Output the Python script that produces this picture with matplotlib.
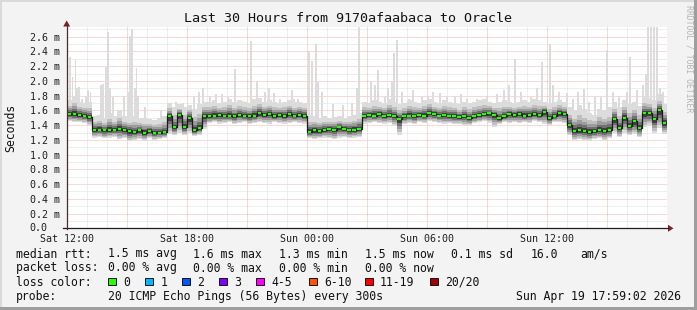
import numpy as np
import matplotlib
matplotlib.use("Agg")
import matplotlib.pyplot as plt
from matplotlib.patches import Rectangle, Polygon

W, H = 697, 310

# median rtt in ms, one value per 15 minutes starting Sat 12:00 (30 h -> 120 values)
median = [
    1.55, 1.55, 1.54, 1.53, 1.51,                                    # 0-4
    1.34, 1.34, 1.33, 1.34, 1.34, 1.35, 1.34,                        # 5-11
    1.32, 1.31, 1.33, 1.30, 1.32, 1.30, 1.30, 1.31,                  # 12-19
    1.52, 1.37, 1.54, 1.38, 1.50, 1.33, 1.36, 1.53,                  # 20-27
    1.52, 1.53, 1.54, 1.53, 1.53, 1.52, 1.54, 1.53, 1.52, 1.53,      # 28-37
    1.56, 1.54, 1.55, 1.52, 1.54, 1.53, 1.55, 1.53, 1.54, 1.53,      # 38-47
    1.31, 1.33, 1.32, 1.34, 1.35, 1.34, 1.37, 1.35, 1.34, 1.34, 1.35,  # 48-58
    1.53, 1.54, 1.53, 1.55, 1.53, 1.54, 1.52, 1.48, 1.52, 1.53,      # 59-68
    1.52, 1.54, 1.53, 1.56, 1.55, 1.53, 1.54, 1.52, 1.53, 1.51,      # 69-78
    1.53, 1.50, 1.52, 1.54, 1.55, 1.56, 1.54, 1.49, 1.52, 1.55,      # 79-88
    1.54, 1.55, 1.53, 1.54, 1.55, 1.54, 1.58, 1.50, 1.53, 1.56, 1.55,  # 89-99
    1.40, 1.32, 1.33, 1.32, 1.31, 1.32, 1.33, 1.32, 1.33,            # 100-108
    1.48, 1.36, 1.50, 1.39, 1.45, 1.36, 1.56, 1.56, 1.48, 1.60, 1.43,  # 109-119
]

# lowest ping of each step (bottom of the smoke)
smoke_lo = [
    1.45, 1.44, 1.44, 1.43, 1.40,
    1.23, 1.24, 1.22, 1.23, 1.24, 1.21, 1.22,
    1.18, 1.20, 1.21, 1.19, 1.22, 1.20, 1.21, 1.22,
    1.28, 1.27, 1.30, 1.26, 1.29, 1.25, 1.27, 1.35,
    1.43, 1.44, 1.42, 1.43, 1.44, 1.42, 1.43, 1.44, 1.42, 1.43,
    1.44, 1.43, 1.42, 1.44, 1.43, 1.42, 1.43, 1.44, 1.43, 1.42,
    1.22, 1.21, 1.22, 1.23, 1.22, 1.21, 1.23, 1.24, 1.22, 1.23, 1.24,
    1.42, 1.43, 1.44, 1.43, 1.42, 1.43, 1.40, 1.27, 1.42, 1.43,
    1.42, 1.44, 1.43, 1.45, 1.44, 1.43, 1.42, 1.43, 1.41, 1.42,
    1.40, 1.40, 1.43, 1.44, 1.45, 1.43, 1.38, 1.42, 1.44, 1.43,
    1.44, 1.43, 1.44, 1.43, 1.45, 1.44, 1.42, 1.40, 1.44, 1.44, 1.43,
    1.26, 1.20, 1.21, 1.20, 1.19, 1.21, 1.22, 1.20, 1.22,
    1.30, 1.24, 1.30, 1.26, 1.28, 1.24, 1.38, 1.40, 1.30, 1.36, 1.28,
]

# upper edge of the regular smoke (without the single spikes)
smoke_hi = [
    1.74, 1.80, 1.72, 1.70, 1.72,
    1.52, 1.54, 1.50, 1.57, 1.52, 1.60, 1.52,
    1.50, 1.52, 1.49, 1.50, 1.48, 1.47, 1.49, 1.52,
    1.70, 1.64, 1.68, 1.64, 1.67, 1.62, 1.68, 1.72,
    1.72, 1.74, 1.70, 1.72, 1.76, 1.71, 1.74, 1.72, 1.70, 1.75,
    1.77, 1.72, 1.74, 1.72, 1.70, 1.72, 1.74, 1.71, 1.72, 1.70,
    1.54, 1.52, 1.50, 1.52, 1.50, 1.51, 1.52, 1.50, 1.52, 1.54, 1.57,
    1.72, 1.70, 1.74, 1.72, 1.70, 1.76, 1.72, 1.68, 1.70, 1.74,
    1.72, 1.70, 1.74, 1.76, 1.72, 1.70, 1.74, 1.72, 1.70, 1.68,
    1.72, 1.70, 1.72, 1.74, 1.76, 1.72, 1.70, 1.72, 1.74, 1.72,
    1.70, 1.72, 1.74, 1.72, 1.76, 1.74, 1.72, 1.70, 1.72, 1.74, 1.72,
    1.64, 1.60, 1.67, 1.62, 1.57, 1.54, 1.62, 1.60, 1.64,
    1.72, 1.64, 1.74, 1.68, 1.72, 1.66, 1.80, 1.77, 1.74, 1.82, 1.68,
]

# single tall pings (hours after Sat 12:00, ms)
spike_h = [0.17, 0.29, 0.44, 0.52, 0.62, 0.78, 0.97, 1.05, 1.19, 1.70,
           1.82, 1.97, 2.07, 2.17, 2.30, 2.85, 3.05, 3.17, 3.25, 3.40,
           3.49, 3.57, 3.90, 4.70, 5.07, 5.45, 5.82, 6.35, 6.60, 6.82,
           7.17, 7.45, 7.75, 8.07, 8.42, 8.80, 9.22, 9.52, 9.92, 10.10,
           10.35, 10.67, 11.25, 11.37, 11.55, 12.12, 12.27, 12.47, 12.57, 12.75,
           13.30, 13.82, 14.25, 14.50, 14.62, 15.22, 15.40, 15.57, 15.90, 16.07,
           16.25, 16.37, 16.52, 16.75, 17.10, 17.32, 17.75, 18.07, 18.30, 18.67,
           19.00, 19.42, 19.70, 20.02, 20.50, 21.00, 21.50, 21.85, 22.12, 22.42,
           22.70, 23.20, 23.50, 23.77, 24.17, 24.32, 24.60, 25.02, 25.30, 25.57,
           25.87, 26.10, 26.42, 26.70, 27.02, 27.30, 27.60, 28.00, 28.17, 28.50,
           28.82, 28.95, 29.07, 29.22, 29.37, 29.52, 29.65, 29.82]
spike_v = [2.32, 2.05, 2.28, 1.90, 1.92, 1.75, 1.80, 1.88, 1.85, 1.95,
           1.96, 2.19, 2.67, 1.90, 1.78, 1.80, 1.85, 2.61, 2.70, 1.90,
           2.18, 1.80, 1.65, 1.60, 1.68, 1.72, 1.70, 1.80, 1.85, 1.91,
           1.80, 1.82, 1.82, 1.78, 2.16, 1.73, 2.54, 1.98, 1.85, 1.90,
           1.83, 1.75, 1.87, 1.76, 1.75, 2.40, 2.27, 2.50, 2.00, 1.85,
           1.68, 1.67, 1.70, 1.90, 2.75, 2.00, 1.95, 2.15, 1.80, 1.91,
           2.00, 2.38, 2.55, 1.85, 1.75, 1.87, 1.78, 1.80, 1.85, 1.83,
           1.78, 1.80, 1.82, 1.75, 1.75, 1.78, 1.82, 1.88, 1.95, 2.30,
           1.85, 1.78, 1.90, 2.25, 2.50, 1.95, 1.85, 1.84, 1.75, 1.85,
           1.89, 1.72, 1.80, 1.78, 2.42, 1.85, 1.80, 1.85, 2.32, 1.88,
           1.95, 2.10, 2.75, 2.75, 2.75, 2.75, 1.90, 1.85]

tick_hours = [0, 6, 12, 18, 24]
tick_names = ["Sat 12:00", "Sat 18:00", "Sun 00:00", "Sun 06:00", "Sun 12:00"]

loss_names = ["0", "1", "2", "3", "4-5", "6-10", "11-19", "20/20"]
loss_colors = ["#26ff00", "#00b8ff", "#0059ff", "#7e00ff", "#ff00ff", "#ff5500", "#ff0000", "#a10000"]

MONO = "DejaVu Sans Mono"
plt.rcParams["font.family"] = MONO

def fx(x):
    return x / W

def fy(y):
    return 1 - y / H

fig = plt.figure(figsize=(W / 100, H / 100), dpi=100, facecolor="#f3f3f3")
X0, X1, Y0, Y1 = 66.7, 666.7, 228.3, 27.3
ax = fig.add_axes([fx(X0), fy(Y0), (X1 - X0) / W, (Y0 - Y1) / H])
ax.set_facecolor("white")
ax.set_xlim(0, 30)
ax.set_ylim(0, 2.6 * (Y0 - Y1) / (Y0 - 36.7))
for s in ax.spines.values():
    s.set_visible(False)

# grid (rrdtool style dotted)
dot = (0, (1, 1))
for k in range(1, 28):
    col = "#f5b3b3" if k % 2 == 0 else "#dedede"
    ax.axhline(k * 0.1, color=col, lw=0.72, ls=dot, zorder=0.5)
for hh in range(1, 30):
    col = "#f5b3b3" if hh % 3 == 0 else "#dedede"
    ax.axvline(hh, color=col, lw=0.72, ls=dot, zorder=0.5)

med = np.array(median)
lo = np.array(smoke_lo)
hi = np.array(smoke_hi)
n = len(med)
edges = np.arange(n + 1) * 0.25

# single spikes in light grey
idx = np.minimum((np.array(spike_h) * 4).astype(int), n - 1)
ax.bar(spike_h, np.array(spike_v) - med[idx], bottom=med[idx], width=1 / 12,
       color="#dcdcdc", lw=0, zorder=1)

# smoke, light outside -> dark near the median
layers = [(1.0, 1.0, "#dcdcdc"), (0.85, 0.6, "#bfbfbf"), (0.65, 0.42, "#9c9c9c"),
          (0.45, 0.27, "#717171"), (0.25, 0.14, "#3e3e3e")]
for flo, fhi, col in layers:
    a = med - flo * (med - lo)
    b = med + fhi * (hi - med)
    ax.fill_between(edges, np.append(a, a[-1]), np.append(b, b[-1]), step="post",
                    color=col, lw=0, zorder=2)

# median line
ax.step(edges, np.append(med, med[-1]), where="post", color="#1a1a1a", lw=0.9, zorder=3)
ax.hlines(med, edges[:-1] + 0.04, edges[1:] - 0.04, color="#26ff00", lw=1.5, zorder=4)

# ticks
ax.set_xticks(tick_hours)
ax.set_xticklabels(tick_names)
yt = [k * 0.2 for k in range(1, 14)]
ax.set_yticks(yt)
ax.set_yticklabels(["%.1f m" % v for v in yt])
ax.tick_params(axis="x", length=0, pad=4.0, labelsize=7.2, colors="#1f1f1f")
ax.tick_params(axis="y", length=0, pad=4.6, labelsize=7.2, colors="#1f1f1f")
# zero label has no unit in rrdtool
fig.text(fx(47), fy(Y0 - 0.5), "0.0", ha="right", va="center", fontsize=7.2, color="#1f1f1f")

# axes + arrows
fig.add_artist(plt.Line2D([fx(62.5), fx(668)], [fy(Y0)] * 2, color="#1f1f1f", lw=0.9))
fig.add_artist(plt.Line2D([fx(X0)] * 2, [fy(Y0 + 1), fy(25)], color="#4a2a2a", lw=0.9))
fig.add_artist(Polygon([(fx(668), fy(Y0 - 3.5)), (fx(673.5), fy(Y0)), (fx(668), fy(Y0 + 3.5))],
                       closed=True, color="#7f1f1f", lw=0))
fig.add_artist(Polygon([(fx(X0 - 3.5), fy(26.5)), (fx(X0), fy(20.5)), (fx(X0 + 3.5), fy(26.5))],
                       closed=True, color="#7f1f1f", lw=0))

# titles
fig.text(fx(348.5), fy(19), "Last 30 Hours from 9170afaabaca to Oracle", ha="center", va="center",
         fontsize=9.6, color="#111111")
fig.text(fx(11), fy(127.8), "Seconds", rotation=90, ha="center", va="center", fontsize=8.3, color="#111111")
fig.text(fx(689), fy(59), "RRDTOOL / TOBI OETIKER", rotation=270, ha="center", va="center",
         fontsize=5.9, color="#b4b4b4")

# legend block
lf = dict(fontsize=8.3, va="center", color="#111111")
row1 = ["median rtt:", "1.5 ms avg", "1.6 ms max", "1.3 ms min", "1.5 ms now", "0.1 ms sd", "16.0", "am/s"]
row1_x = [16, 107.5, 193, 279, 365, 451, 531, 580]
for t, x in zip(row1, row1_x):
    fig.text(fx(x), fy(254), t, **lf)
row2 = ["packet loss:", "0.00 % avg", "0.00 % max", "0.00 % min", "0.00 % now"]
row2_x = [16, 107.5, 193, 279, 365]
for t, x in zip(row2, row2_x):
    fig.text(fx(x), fy(268), t, **lf)
fig.text(fx(16), fy(282), "loss color:", **lf)
box_x = [108.3, 145.3, 182, 219, 256.3, 309, 365, 430]
for name, col, x in zip(loss_names, loss_colors, box_x):
    fig.add_artist(Rectangle((fx(x), fy(285.3)), 7.6 / W, 7.6 / H, facecolor=col,
                             edgecolor="#111111", lw=0.7))
    fig.text(fx(x + 15), fy(282), name, **lf)
fig.text(fx(16), fy(296.5), "probe:", **lf)
fig.text(fx(107.5), fy(296.5), "20 ICMP Echo Pings (56 Bytes) every 300s", **lf)
fig.text(fx(681), fy(296.5), "Sun Apr 19 17:59:02 2026", ha="right", fontsize=8.3, va="center",
         color="#111111")

# 3d frame
fig.add_artist(Rectangle((0, fy(2)), 1, 2 / H, color="#dadada", lw=0))
fig.add_artist(Rectangle((0, 0), 2 / W, 1, color="#dadada", lw=0))
fig.add_artist(Rectangle((fx(694), 0), 3 / W, 1, color="#9e9e9e", lw=0))
fig.add_artist(Rectangle((0, 0), 1, 3 / H, color="#9e9e9e", lw=0))

fig.savefig("out.png", dpi=100, facecolor=fig.get_facecolor())
